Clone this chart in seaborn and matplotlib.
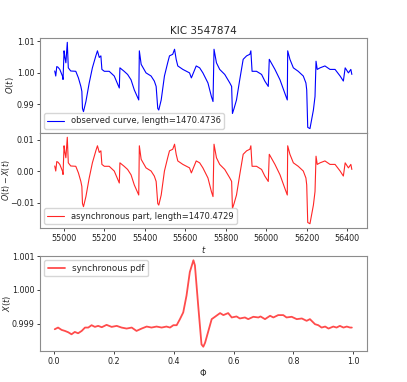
import numpy as np
import pandas as pd
import matplotlib
matplotlib.use('Agg')
import matplotlib.pyplot as plt
import seaborn as sns

# 관측 시간 (BJD-2400000)
times = [54955, 54960, 54965, 54971, 54980, 54993, 54996, 55001, 55005, 55010,
         55017, 55022, 55034, 55059, 55072, 55084, 55089, 55092, 55097, 55109,
         55125, 55141, 55158, 55166, 55175, 55183, 55188, 55200, 55224, 55249,
         55274, 55277, 55298, 55315, 55332, 55348, 55370, 55373, 55382, 55406,
         55431, 55447, 55456, 55464, 55469, 55481, 55497, 55513, 55522, 55538,
         55547, 55555, 55563, 55588, 55621, 55630, 55654, 55671, 55687, 55712,
         55729, 55737, 55742, 55754, 55770, 55795, 55820, 55829, 55833, 55841,
         55853, 55869, 55886, 55903, 55919, 55924, 55930, 55952, 55977, 55993,
         56010, 56015, 56043, 56068, 56092, 56104, 56106, 56117, 56134, 56158,
         56183, 56196, 56200, 56205, 56216, 56233, 56241, 56246, 56252, 56266,
         56290, 56315, 56340, 56365, 56381, 56390, 56406, 56418, 56423]

# 관측 광도곡선 O(t)
observed = [1.0006, 0.9990, 1.0020, 1.0018, 1.0011, 0.9990, 0.9979, 1.0070, 1.0050, 1.0032,
            1.0097, 1.0016, 1.0006, 1.0005, 0.9984, 0.9957, 0.9941, 0.9887, 0.9877, 0.9909,
            0.9967, 1.0016, 1.0054, 1.0070, 1.0049, 1.0054, 1.0011, 1.0005, 1.0005, 0.9990,
            0.9952, 1.0016, 1.0005, 0.9995, 0.9978, 0.9946, 0.9914, 1.0070, 1.0027, 1.0000,
            0.9990, 0.9974, 0.9957, 0.9887, 0.9882, 0.9914, 0.9990, 1.0032, 1.0054, 1.0059,
            1.0075, 1.0043, 1.0022, 1.0011, 1.0000, 0.9984, 1.0022, 1.0016, 1.0000, 0.9968,
            0.9925, 0.9909, 1.0075, 1.0032, 1.0011, 0.9995, 0.9968, 0.9957, 0.9871, 0.9887,
            0.9914, 0.9978, 1.0043, 1.0054, 1.0059, 1.0070, 1.0005, 1.0005, 0.9995, 0.9974,
            0.9957, 1.0043, 1.0011, 0.9978, 0.9935, 0.9914, 1.0070, 1.0043, 1.0016, 1.0005,
            0.9990, 0.9968, 0.9946, 0.9827, 0.9823, 0.9882, 0.9925, 1.0037, 1.0011, 1.0016,
            1.0022, 1.0011, 1.0011, 0.9990, 0.9974, 1.0016, 1.0000, 1.0011, 0.9995]

# 비동기 성분 O(t) - X(t)
asynchronous = [0.0017, 0.0001, 0.0031, 0.0029, 0.0022, 0.0001, -0.0010, 0.0081, 0.0061, 0.0043,
                0.0108, 0.0027, 0.0017, 0.0016, -0.0005, -0.0032, -0.0048, -0.0102, -0.0112, -0.0080,
                -0.0022, 0.0027, 0.0065, 0.0081, 0.0060, 0.0065, 0.0022, 0.0016, 0.0016, 0.0001,
                -0.0037, 0.0027, 0.0016, 0.0006, -0.0011, -0.0043, -0.0075, 0.0081, 0.0038, 0.0011,
                0.0001, -0.0015, -0.0032, -0.0102, -0.0107, -0.0075, 0.0001, 0.0043, 0.0065, 0.0070,
                0.0086, 0.0054, 0.0033, 0.0022, 0.0011, -0.0005, 0.0033, 0.0027, 0.0011, -0.0021,
                -0.0064, -0.0080, 0.0086, 0.0043, 0.0022, 0.0006, -0.0021, -0.0032, -0.0118, -0.0102,
                -0.0075, -0.0011, 0.0054, 0.0065, 0.0070, 0.0081, 0.0016, 0.0016, 0.0006, -0.0015,
                -0.0032, 0.0054, 0.0022, -0.0011, -0.0054, -0.0075, 0.0081, 0.0054, 0.0027, 0.0016,
                0.0001, -0.0021, -0.0043, -0.0162, -0.0166, -0.0107, -0.0064, 0.0048, 0.0022, 0.0027,
                0.0033, 0.0022, 0.0022, 0.0001, -0.0015, 0.0027, 0.0011, 0.0022, 0.0006]

# 위상 Phi 와 동기 성분 X(t)
phase = [0.003, 0.014, 0.026, 0.037, 0.048, 0.059, 0.070, 0.081, 0.093, 0.104,
         0.115, 0.126, 0.137, 0.148, 0.160, 0.176, 0.193, 0.210, 0.226, 0.243,
         0.260, 0.276, 0.293, 0.310, 0.326, 0.343, 0.360, 0.376, 0.388, 0.399,
         0.410, 0.421, 0.432, 0.443, 0.454, 0.466, 0.471, 0.482, 0.493, 0.499,
         0.505, 0.516, 0.527, 0.538, 0.555, 0.566, 0.582, 0.594, 0.610, 0.621,
         0.638, 0.649, 0.666, 0.683, 0.690, 0.705, 0.722, 0.733, 0.749, 0.766,
         0.777, 0.794, 0.811, 0.828, 0.844, 0.855, 0.872, 0.883, 0.894, 0.906,
         0.917, 0.933, 0.944, 0.955, 0.967, 0.978, 0.989, 0.995]
synchronous = [0.99883, 0.99888, 0.99881, 0.99878, 0.99874, 0.99868, 0.99875, 0.99871, 0.99878, 0.99888,
               0.99888, 0.99895, 0.99890, 0.99893, 0.99889, 0.99896, 0.99890, 0.99893, 0.99888, 0.99885,
               0.99888, 0.99878, 0.99885, 0.99891, 0.99888, 0.99891, 0.99888, 0.99891, 0.99888, 0.99895,
               0.99895, 0.99913, 0.99933, 0.99983, 1.00053, 1.00088, 1.00073, 0.99953, 0.99838, 0.99831,
               0.99843, 0.99878, 0.99913, 0.99920, 0.99931, 0.99925, 0.99931, 0.99918, 0.99921, 0.99915,
               0.99918, 0.99913, 0.99920, 0.99918, 0.99921, 0.99913, 0.99923, 0.99918, 0.99925, 0.99925,
               0.99918, 0.99920, 0.99913, 0.99915, 0.99908, 0.99913, 0.99898, 0.99895, 0.99888, 0.99891,
               0.99885, 0.99891, 0.99888, 0.99893, 0.99888, 0.99891, 0.99888, 0.99888]

lc = pd.DataFrame({'t': times, 'O': observed, 'A': asynchronous})
pdf = pd.DataFrame({'phi': phase, 'X': synchronous})

sns.set_style('white')
plt.rcParams['font.family'] = ['DejaVu Sans']
plt.rcParams['font.size'] = 5.8
plt.rcParams['axes.edgecolor'] = '#8c8c8c'
plt.rcParams['axes.linewidth'] = 0.8
plt.rcParams['xtick.bottom'] = True
plt.rcParams['ytick.left'] = True
plt.rcParams['xtick.major.size'] = 2.5
plt.rcParams['ytick.major.size'] = 2.5
plt.rcParams['xtick.major.width'] = 0.6
plt.rcParams['ytick.major.width'] = 0.6
plt.rcParams['xtick.color'] = '#222222'
plt.rcParams['ytick.color'] = '#222222'

fig = plt.figure(figsize=(4.07, 3.82), dpi=100)
ax1 = fig.add_axes([0.098, 0.652, 0.803, 0.2485])
ax2 = fig.add_axes([0.098, 0.403, 0.803, 0.249], sharex=ax1)
ax3 = fig.add_axes([0.098, 0.081, 0.803, 0.249])

# 1. 관측 곡선
sns.lineplot(data=lc, x='t', y='O', ax=ax1, color='blue', linewidth=0.8,
             estimator=None, sort=False, label='observed curve, length=1470.4736')
ax1.set_title('KIC 3547874', fontsize=7.5, pad=3)
ax1.set_ylabel('$O(t)$', fontsize=6)
ax1.yaxis.set_label_coords(-0.072, 0.5)
ax1.set_xlabel('')
ax1.tick_params(labelbottom=False)
ax1.legend(loc='lower left', fontsize=6)

# 2. 비동기 성분
sns.lineplot(data=lc, x='t', y='A', ax=ax2, color='red', linewidth=0.8, alpha=0.85,
             estimator=None, sort=False, label='asynchronous part, length=1470.4729')
ax2.set_ylabel('$O(t) - X(t)$', fontsize=5.8)
ax2.yaxis.set_label_coords(-0.086, 0.5)
ax2.set_xlabel('$t$', fontsize=6, labelpad=1)
ax2.set_yticks([-0.01, 0.0, 0.01])
ax2.legend(loc='lower left', fontsize=6)

# 3. 동기 성분
sns.lineplot(data=pdf, x='phi', y='X', ax=ax3, color='red', linewidth=1.3, alpha=0.7,
             estimator=None, sort=False, label='synchronous pdf')
ax3.set_ylabel('$X(t)$', fontsize=6)
ax3.yaxis.set_label_coords(-0.082, 0.5)
ax3.set_xlabel(r'$\Phi$', fontsize=6, labelpad=1)
ax3.set_yticks([0.999, 1.000, 1.001])
ax3.legend(loc='upper left', fontsize=6.3)

for ax in (ax1, ax2, ax3):
    ax.tick_params(labelsize=5.8, pad=1.5)

fig.savefig('out.png', dpi=100)
